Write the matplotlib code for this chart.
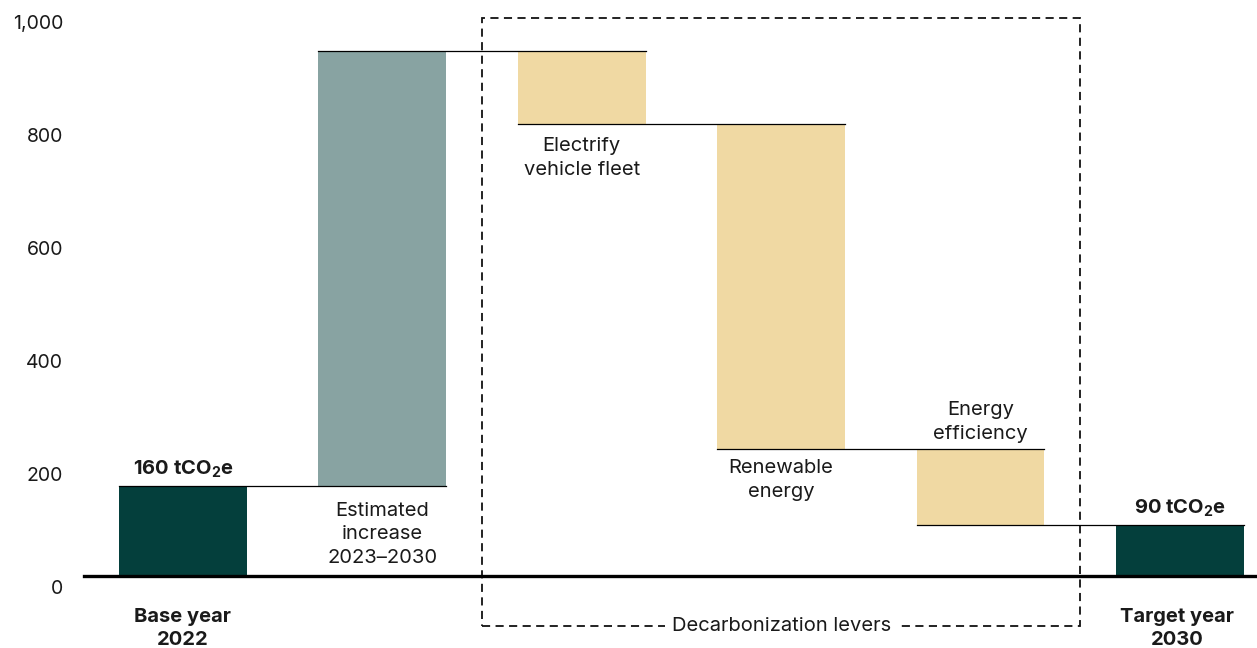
import matplotlib
matplotlib.use("Agg")
import matplotlib.pyplot as plt
from matplotlib.patches import Rectangle
from matplotlib.transforms import ScaledTranslation

plt.rcParams['font.family'] = ['Inter', 'DejaVu Sans']
plt.rcParams['mathtext.default'] = 'regular'

# waterfall data (tCO2e)
steps = ['Base year\n2022', 'Estimated\nincrease\n2023–2030', 'Electrify\nvehicle fleet',
         'Renewable\nenergy', 'Energy\nefficiency', 'Target year\n2030']
base_value = 160
changes = [770, -130, -575, -135]
target_value = 90

c_total = '#043f3c'
c_up = '#88a3a2'
c_down = '#f0d9a3'

fig = plt.figure(figsize=(12.57, 6.48), dpi=100)
ax = fig.add_axes([0.0668, 0.1111, 0.9332, 0.872])

width = 0.64
x = list(range(len(steps)))

# running totals
levels = [base_value]
for c in changes:
    levels.append(levels[-1] + c)

ax.bar(x[0], base_value, width, color=c_total, zorder=2)
ax.bar(x[-1], target_value, width, color=c_total, zorder=2)
for i, c in enumerate(changes):
    start = levels[i]
    ax.bar(x[i + 1], c, width, bottom=start, color=c_up if c > 0 else c_down, zorder=2)

# connector lines between bars
for i, lv in enumerate(levels):
    ax.plot([x[i] - width / 2, x[i + 1] + width / 2], [lv, lv], color='black', lw=0.9, zorder=3)

ax.set_xlim(-0.496, 5.386)
ax.set_ylim(0, 1000)

for s in ['top', 'right', 'left']:
    ax.spines[s].set_visible(False)
ax.spines['bottom'].set_linewidth(2.4)
ax.spines['bottom'].set_zorder(4)
ax.set_xticks([])

ax.set_yticks(range(0, 1001, 200))
ax.set_yticklabels(['0', '200', '400', '600', '800', '1,000'])
ax.tick_params(axis='y', length=0, pad=15, labelsize=14, labelcolor='#1a1a1a')
off = ScaledTranslation(0, -0.11, fig.dpi_scale_trans)
for lab in ax.get_yticklabels():
    lab.set_transform(lab.get_transform() + off)

fs = 14.5
fsb = 14.5
tc = '#1a1a1a'
ls = 1.42

# step labels
ax.annotate(steps[1], (x[1], levels[0]), xytext=(0, -16), textcoords='offset pixels',
            ha='center', va='top', fontsize=fs, color=tc, linespacing=ls)
ax.annotate(steps[2], (x[2], levels[2]), xytext=(0, -13), textcoords='offset pixels',
            ha='center', va='top', fontsize=fs, color=tc, linespacing=ls)
ax.annotate(steps[3], (x[3], levels[3]), xytext=(0, -10), textcoords='offset pixels',
            ha='center', va='top', fontsize=fs, color=tc, linespacing=ls)
ax.annotate(steps[4], (x[4], levels[3]), xytext=(0, 6), textcoords='offset pixels',
            ha='center', va='bottom', fontsize=fs, color=tc, linespacing=ls)

# totals
ax.annotate(f'{base_value} tCO$_2$e', (x[0], base_value), xytext=(0, 6), textcoords='offset pixels',
            ha='center', va='bottom', fontsize=fsb, fontweight='bold', color=tc)
ax.annotate(f'{target_value} tCO$_2$e', (x[-1], target_value), xytext=(0, 6), textcoords='offset pixels',
            ha='center', va='bottom', fontsize=fsb, fontweight='bold', color=tc)
ax.annotate(steps[0], (x[0], 0), xytext=(0, -32), textcoords='offset pixels',
            ha='center', va='top', fontsize=fsb, fontweight='bold', color=tc, linespacing=1.35)
ax.annotate(steps[-1], (x[-1], 0), xytext=(-3, -32), textcoords='offset pixels',
            ha='center', va='top', fontsize=fsb, fontweight='bold', color=tc, linespacing=1.35)

# dashed box around the levers
box = Rectangle((1.5, -88), 3.0, 1076, fill=False, ls=(0, (4.5, 3)), lw=1.3,
                edgecolor='#111111', clip_on=False, zorder=1)
ax.add_patch(box)
ax.text(3.0, -88, 'Decarbonization levers', ha='center', va='center', fontsize=fs, color=tc,
        bbox=dict(facecolor='white', edgecolor='none', pad=5), zorder=5, clip_on=False)

fig.savefig('out.png', dpi=100)
